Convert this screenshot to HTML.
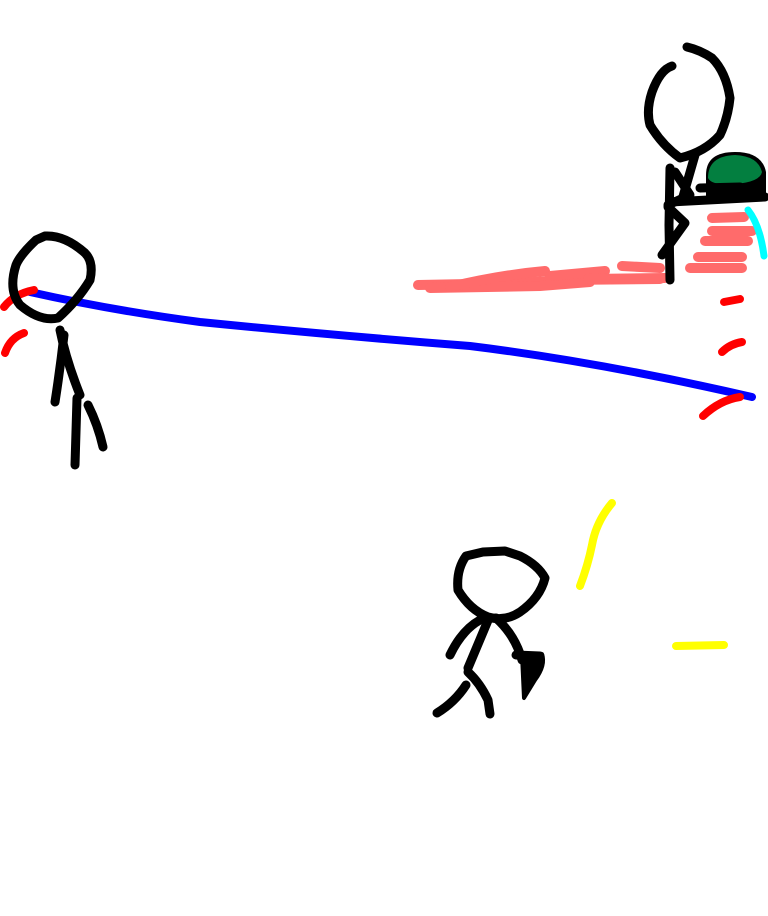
<!DOCTYPE html>
<html><head><meta charset="utf-8"><style>html,body{margin:0;padding:0;background:#fff;width:768px;height:916px;overflow:hidden}</style></head>
<body>
<svg width="768" height="916" viewBox="0 0 768 916" xmlns="http://www.w3.org/2000/svg" fill="none" stroke-linecap="round" stroke-linejoin="round">
<g stroke="#ff6b6b" stroke-width="10">
<path d="M418 285 L520 283 L560 280 L660 279"/>
<path d="M430 288 L540 286 L590 282"/>
<path d="M450 287 Q500 275 545 271"/>
<path d="M550 276 L605 271"/>
<path d="M622 266 L660 268"/>
<path d="M588 279 L665 278"/>
<path d="M690 268 L742 268"/>
<path d="M698 257 L742 257"/>
<path d="M705 241 L748 241"/>
<path d="M712 231 L752 231"/>
<path d="M712 218 L744 217"/>
</g>
<path d="M748 210 Q760 225 764 256" stroke="#00ffff" stroke-width="7"/>
<path d="M30 292 Q110 310 200 322 Q330 335 470 346 Q600 362 752 397" stroke="#0000ff" stroke-width="8"/>
<g stroke="#ff0000" stroke-width="8">
<path d="M4 307 Q14 294 34 290"/>
<path d="M5 353 Q10 338 24 333"/>
<path d="M724 302 L740 299"/>
<path d="M722 352 Q730 344 742 342"/>
<path d="M703 416 Q720 400 740 397"/>
</g>
<g stroke="#ffff00" stroke-width="8">
<path d="M580 586 Q588 565 592 545 Q596 522 612 503"/>
<path d="M676 646 L724 645"/>
</g>
<path d="M706 175 Q706 152 735 152 Q762 152 766 172 L766 195 L706 198 Z" fill="#000"/>
<path d="M708 178 Q708 156 735 155 Q758 156 762 172 Q760 182 735 184 Q712 186 708 178 Z" fill="#037f40"/>
<g stroke="#000" stroke-width="9">
<path d="M36 240 Q20 255 16 265 Q8 290 20 305 Q40 322 58 318 Q78 300 90 280 Q94 262 85 253 Q65 235 45 236 Z"/>
<path d="M60 330 Q66 360 80 395"/>
<path d="M64 335 Q60 370 55 402"/>
<path d="M77 398 L75 465"/>
<path d="M88 405 Q98 425 103 447"/>
<path d="M672 66 Q660 70 652 92 Q646 110 650 125 Q662 145 680 158 Q705 152 720 135 Q728 118 730 98 Q726 72 712 58 Q700 50 687 47"/>
<path d="M670 168 L669 225 L670 280"/>
<path d="M675 172 L690 195 L668 205"/>
<path d="M668 207 L685 223 L662 255"/>
<path d="M682 200 L695 155"/>
<path d="M670 202 L765 197"/>
<path d="M700 188 L740 187"/>
<path d="M483 552 L466 556 Q456 570 458 590 Q470 610 488 617 Q505 622 520 612 Q540 598 545 578 Q538 565 520 556 L505 551 Z"/>
<path d="M489 618 L468 668"/>
<path d="M480 620 Q462 630 450 655"/>
<path d="M496 618 Q515 635 522 660"/>
<path d="M468 672 Q480 683 488 700 L490 714"/>
<path d="M466 685 Q455 702 437 713"/>
<path d="M516 655 L540 656"/>
</g>
<path d="M522 655 L542 654 Q546 665 535 680 L524 698 Z" fill="#000" stroke="#000" stroke-width="4"/>
</svg>
</body></html>
